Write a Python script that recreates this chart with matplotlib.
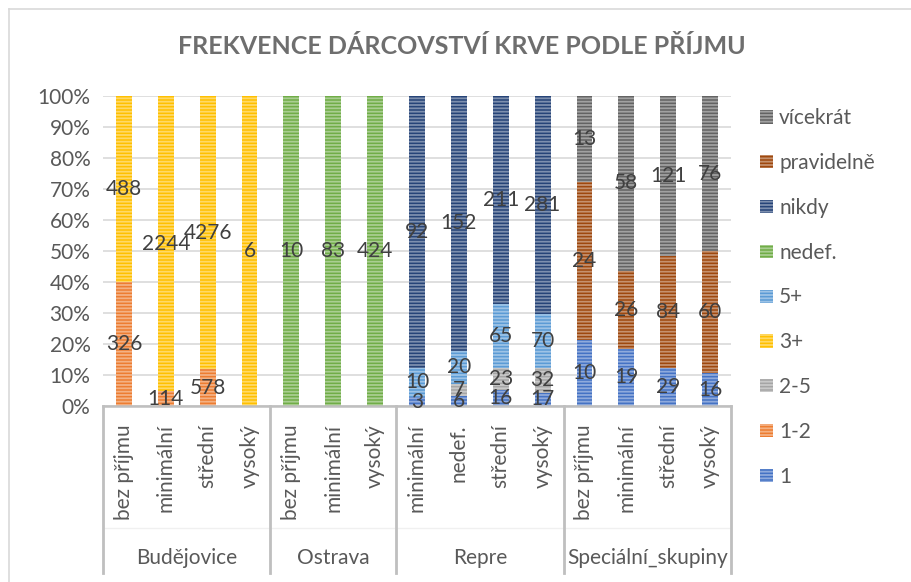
import matplotlib
matplotlib.use("Agg")
import matplotlib.pyplot as plt
import matplotlib.transforms as mtransforms
from matplotlib.lines import Line2D
import numpy as np

plt.rcParams['font.family'] = ['Lato', 'DejaVu Sans']
plt.rcParams['hatch.linewidth'] = 1.3

# ---------------- data ----------------
categories = ['bez příjmu', 'minimální', 'střední', 'vysoký',
              'bez příjmu', 'minimální', 'vysoký',
              'minimální', 'nedef.', 'střední', 'vysoký',
              'bez příjmu', 'minimální', 'střední', 'vysoký']
groups = ['Budějovice', 'Ostrava', 'Repre', 'Speciální_skupiny']
group_sizes = [4, 3, 4, 4]

series_names = ['1', '1-2', '2-5', '3+', '5+', 'nedef.', 'nikdy', 'pravidelně', 'vícekrát']
s_1 =          [0, 0, 0, 0,        0, 0, 0,        3, 6, 16, 17,     10, 19, 29, 16]
s_1_2 =        [326, 114, 578, 0,  0, 0, 0,        0, 0, 0, 0,       0, 0, 0, 0]
s_2_5 =        [0, 0, 0, 0,        0, 0, 0,        0, 7, 23, 32,     0, 0, 0, 0]
s_3p =         [488, 2244, 4276, 6, 0, 0, 0,       0, 0, 0, 0,       0, 0, 0, 0]
s_5p =         [0, 0, 0, 0,        0, 0, 0,        10, 20, 65, 70,   0, 0, 0, 0]
s_nedef =      [0, 0, 0, 0,        10, 83, 424,    0, 0, 0, 0,       0, 0, 0, 0]
s_nikdy =      [0, 0, 0, 0,        0, 0, 0,        92, 152, 211, 281, 0, 0, 0, 0]
s_pravidelne = [0, 0, 0, 0,        0, 0, 0,        0, 0, 0, 0,       24, 26, 84, 60]
s_vicekrat =   [0, 0, 0, 0,        0, 0, 0,        0, 0, 0, 0,       13, 58, 121, 76]

series_values = [s_1, s_1_2, s_2_5, s_3p, s_5p, s_nedef, s_nikdy, s_pravidelne, s_vicekrat]
series_colors = ['#4472C4', '#ED7D31', '#A5A5A5', '#FFC000', '#5B9BD5',
                 '#70AD47', '#264478', '#9E480E', '#636363']

title = 'FREKVENCE DÁRCOVSTVÍ KRVE PODLE PŘÍJMU'

# ---------------- figure ----------------
W, H = 911, 582
fig = plt.figure(figsize=(W / 100, H / 100), dpi=100)
fig.patch.set_facecolor('white')

ax_l, ax_r, ax_t, ax_b = 103, 731, 96, 406
ax = fig.add_axes([ax_l / W, (H - ax_b) / H, (ax_r - ax_l) / W, (ax_b - ax_t) / H])

def lighten(hexc, f):
    import matplotlib.colors as mc
    r, g, b = mc.to_rgb(hexc)
    return (r + (1 - r) * f, g + (1 - g) * f, b + (1 - b) * f)

vals = np.array(series_values, dtype=float)
totals = vals.sum(axis=0)
pct = vals / totals

x = np.arange(len(categories))
bottom = np.zeros(len(categories))
width = 0.38
handles = []
for name, row, prow, col in zip(series_names, vals, pct, series_colors):
    bars = ax.bar(x, prow, width, bottom=bottom, color=col,
                  edgecolor=lighten(col, 0.4), linewidth=0, hatch='-----',
                  label=name, zorder=3)
    handles.append(bars)
    for i in range(len(x)):
        if row[i] > 0:
            ax.text(x[i], bottom[i] + prow[i] / 2, f'{int(row[i])}',
                    ha='center', va='center', fontsize=15, color='#404040', zorder=5)
    bottom += prow

ax.set_xlim(-0.5, len(categories) - 0.5)
ax.set_ylim(0, 1)
ax.set_yticks(np.linspace(0, 1, 11))
ax.set_yticklabels([f'{int(round(t * 100))}%' for t in np.linspace(0, 1, 11)],
                   fontsize=15, color='#595959')
ax.tick_params(axis='y', length=0, pad=9)
ax.set_xticks([])
ax.yaxis.grid(True, color='#D9D9D9', linewidth=1.2, zorder=0)
ax.set_axisbelow(True)
for s in ax.spines.values():
    s.set_visible(False)

# multi-level category axis
trans = mtransforms.blended_transform_factory(ax.transData, ax.transAxes)
ax_h = ax_b - ax_t
def ay(py):
    return (ax_b - py) / ax_h

ax.plot([-0.5, len(categories) - 0.5], [0, 0], transform=trans, color='#BFBFBF',
        lw=1.8, clip_on=False, zorder=4)
ax.plot([-0.5, len(categories) - 0.5], [ay(528), ay(528)], transform=trans,
        color='#F0F0F0', lw=1.0, clip_on=False)
for i, c in enumerate(categories):
    ax.text(i, ay(424), c, rotation=90, ha='center', va='top', fontsize=15,
            color='#595959', transform=trans, rotation_mode='default')

start = 0
bounds = [-0.5]
for g, n in zip(groups, group_sizes):
    ax.text(start - 0.5 + n / 2, ay(558), g, ha='center', va='center', fontsize=15,
            color='#595959', transform=trans)
    start += n
    bounds.append(start - 0.5)
for b in bounds:
    ax.plot([b, b], [0, ay(573)], transform=trans, color='#BFBFBF', lw=2.0,
            clip_on=False)

# legend
leg = fig.legend(handles[::-1], series_names[::-1], loc='upper left',
                 bbox_to_anchor=(752 / W, (H - 100) / H), frameon=False,
                 fontsize=15, handlelength=0.6, handleheight=0.6,
                 handletextpad=0.3, labelspacing=1.19, borderaxespad=0)
for t in leg.get_texts():
    t.set_color('#595959')

# title
fig.text(462 / W, (H - 47) / H, title, ha='center', va='center', fontsize=18,
         fontweight='bold', color='#6E6E6E')

# chart border
fig.add_artist(Line2D([9 / W, 1], [1 - 9 / H, 1 - 9 / H], color='#D9D9D9', lw=1.2))
fig.add_artist(Line2D([9 / W, 9 / W], [0, 1 - 9 / H], color='#D9D9D9', lw=1.2))

fig.savefig('out.png', dpi=100)
